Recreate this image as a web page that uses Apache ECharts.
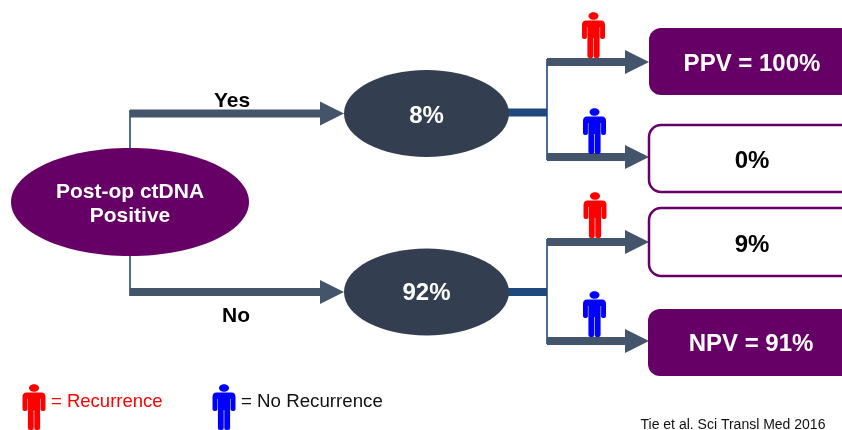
<!DOCTYPE html>
<html>
<head>
<meta charset="utf-8">
<style>html,body{margin:0;padding:0;background:#fff}#chart{width:842px;height:430px}</style>
<script src="https://cdn.jsdelivr.net/npm/echarts@6/dist/echarts.min.js"></script>
</head>
<body>
<div id="chart"></div>
<script>
// Text and values of the decision tree
const rootLabel = 'Post-op ctDNA\nPositive';
const branchLabels = ['Yes', 'No'];
const branchShares = [8, 92];
const outcomeLabels = ['PPV = 100%', '0%', '9%', 'NPV = 91%'];
const legendLabels = ['= Recurrence', '= No Recurrence'];
const citation = 'Tie et al. Sci Transl Med 2016';

const PURPLE = '#660066', SLATE = '#44546a', NAVY = '#1f497d', STEM = '#4a6d99', DARK = '#333f50';
const FONT = '"Liberation Sans", Arial, sans-serif';

// Layout in canvas units; the hidden axes map these one to one onto pixels
const ellipses = [
  { cx: 130, cy: 202, rx: 119, ry: 54, fill: PURPLE, text: rootLabel, size: 21, lh: 24, ty: 204 },
  { cx: 426.5, cy: 113.5, rx: 82.5, ry: 43.5, fill: DARK, text: branchShares[0] + '%', size: 24, lh: 28, ty: 116 },
  { cx: 426.5, cy: 292, rx: 82.5, ry: 43.5, fill: DARK, text: branchShares[1] + '%', size: 24, lh: 28, ty: 293 }
];
const boxes = [
  { x: 649, y: 28, y2: 95, filled: true, label: outcomeLabels[0], tx: 752, ty: 64 },
  { x: 649, y: 125, y2: 192, filled: false, label: outcomeLabels[1], tx: 752, ty: 161 },
  { x: 649, y: 208, y2: 276, filled: false, label: outcomeLabels[2], tx: 752, ty: 245 },
  { x: 648, y: 309, y2: 376, filled: true, label: outcomeLabels[3], tx: 751, ty: 344 }
];
const arrows = [
  { x1: 130, x2: 344, y: 113.5 }, { x1: 130, x2: 344, y: 292 },
  { x1: 547, x2: 649, y: 62 }, { x1: 547, x2: 649, y: 157 },
  { x1: 547, x2: 649, y: 242 }, { x1: 547, x2: 649, y: 341 }
];
const stems = [
  { x: 130, y1: 110, y2: 148 }, { x: 130, y1: 256, y2: 296 },
  { x: 547, y1: 59, y2: 160 }, { x: 547, y1: 239, y2: 344 }
];
const stubs = [{ x1: 508, x2: 547, y: 112.5 }, { x1: 508, x2: 547, y: 292 }];
const people = [
  { x: 593.5, y: 12, color: '#ff0000' }, { x: 594.5, y: 108, color: '#0000ff' },
  { x: 595, y: 192, color: '#ff0000' }, { x: 594.5, y: 291, color: '#0000ff' },
  { x: 34, y: 384, color: '#ff0000' }, { x: 224, y: 384, color: '#0000ff' }
];
const texts = [
  { x: 232, y: 101, s: branchLabels[0], size: 21, weight: 'bold', color: '#000' },
  { x: 236, y: 316, s: branchLabels[1], size: 21, weight: 'bold', color: '#000' },
  { x: 51, y: 402, s: legendLabels[0], size: 18.5, color: '#ff0000', align: 'left' },
  { x: 241, y: 402, s: legendLabels[1], size: 18.7, color: '#111', align: 'left' },
  { x: 640.5, y: 425, s: citation, size: 14, color: '#111', align: 'left' }
];

// One draw list: connectors first, then nodes, then figures and loose text
const items = [].concat(
  stems.map(o => ['stem', o]), stubs.map(o => ['stub', o]), arrows.map(o => ['arrow', o]),
  ellipses.map(o => ['ellipse', o]), boxes.map(o => ['box', o]),
  people.map(o => ['person', o]), texts.map(o => ['text', o])
);

const textEl = (x, y, s, size, color, weight, align, lh) => ({
  type: 'text', silent: true,
  style: { x, y, text: s, fill: color, font: (weight || 'normal') + ' ' + size + 'px ' + FONT,
           align: align || 'center', verticalAlign: 'middle', lineHeight: lh || size }
});

function renderItem(params, api) {
  const [kind, o] = items[api.value(0)];
  const P = (x, y) => api.coord([x, y]);
  if (kind === 'stem') {
    const a = P(o.x, o.y1), b = P(o.x, o.y2);
    return { type: 'line', shape: { x1: a[0], y1: a[1], x2: b[0], y2: b[1] }, style: { stroke: STEM, lineWidth: 2 } };
  }
  if (kind === 'stub') {
    const a = P(o.x1, o.y), b = P(o.x2, o.y);
    return { type: 'line', shape: { x1: a[0], y1: a[1], x2: b[0], y2: b[1] }, style: { stroke: NAVY, lineWidth: 8 } };
  }
  if (kind === 'arrow') {
    const a = P(o.x1, o.y), b = P(o.x2, o.y);
    const neck = b[0] - 24;
    return { type: 'group', children: [
      { type: 'rect', shape: { x: a[0], y: a[1] - 4, width: neck - a[0], height: 8 }, style: { fill: SLATE } },
      { type: 'polygon', shape: { points: [[neck, a[1] - 12], [b[0], a[1]], [neck, a[1] + 12]] }, style: { fill: SLATE } }
    ] };
  }
  if (kind === 'ellipse') {
    const c = P(o.cx, o.cy);
    return { type: 'group', children: [
      { type: 'ellipse', shape: { cx: c[0], cy: c[1], rx: o.rx, ry: o.ry }, style: { fill: o.fill } },
      textEl(c[0], P(o.cx, o.ty)[1], o.text, o.size, '#fff', 'bold', 'center', o.lh)
    ] };
  }
  if (kind === 'box') {
    const a = P(o.x, o.y), b = P(o.x, o.y2);
    const t = P(o.tx, o.ty);
    return { type: 'group', children: [
      { type: 'rect', shape: { x: a[0], y: a[1], width: 230, height: b[1] - a[1], r: 12 },
        style: o.filled ? { fill: PURPLE } : { fill: '#fff', stroke: PURPLE, lineWidth: 2.5 } },
      textEl(t[0], t[1], o.label, 24, o.filled ? '#fff' : '#000', 'bold')
    ] };
  }
  if (kind === 'person') {
    const c = P(o.x, o.y), x = c[0], y = c[1];
    const body = [
      'M', x - 7.5, y + 8.5, 'L', x + 7.5, y + 8.5,
      'Q', x + 11.5, y + 8.5, x + 11.5, y + 13, 'L', x + 11.5, y + 25,
      'Q', x + 11.5, y + 27, x + 9.5, y + 27, 'Q', x + 6.6, y + 27, x + 6.6, y + 25,
      'L', x + 6.6, y + 15, 'L', x + 6.1, y + 15, 'L', x + 6.1, y + 44,
      'Q', x + 6.1, y + 46, x + 4, y + 46, 'L', x + 2, y + 46, 'Q', x + 0.3, y + 46, x + 0.3, y + 44,
      'L', x + 0.3, y + 26, 'L', x - 0.3, y + 26, 'L', x - 0.3, y + 44,
      'Q', x - 0.3, y + 46, x - 2, y + 46, 'L', x - 4, y + 46, 'Q', x - 6.1, y + 46, x - 6.1, y + 44,
      'L', x - 6.1, y + 15, 'L', x - 6.6, y + 15, 'L', x - 6.6, y + 25,
      'Q', x - 6.6, y + 27, x - 9.5, y + 27, 'Q', x - 11.5, y + 27, x - 11.5, y + 25,
      'L', x - 11.5, y + 13, 'Q', x - 11.5, y + 8.5, x - 7.5, y + 8.5, 'Z'
    ].join(' ');
    return { type: 'group', children: [
      { type: 'ellipse', shape: { cx: x, cy: y + 4, rx: 5, ry: 3.8 }, style: { fill: o.color } },
      { type: 'path', shape: { pathData: body }, style: { fill: o.color } }
    ] };
  }
  const t = P(o.x, o.y);
  return textEl(t[0], t[1], o.s, o.size, o.color, o.weight, o.align);
}

const chart = echarts.init(document.getElementById('chart'), null, { renderer: 'canvas' });
chart.setOption({
  animation: false,
  backgroundColor: '#fff',
  grid: { left: 0, right: 0, top: 0, bottom: 0 },
  xAxis: { type: 'value', min: 0, max: 842, show: false },
  yAxis: { type: 'value', min: 0, max: 430, inverse: true, show: false },
  series: [{
    type: 'custom',
    coordinateSystem: 'cartesian2d',
    clip: true,
    silent: true,
    data: items.map((_, i) => [i]),
    encode: { x: 0, y: 0 },
    renderItem
  }]
});
</script>
</body>
</html>
